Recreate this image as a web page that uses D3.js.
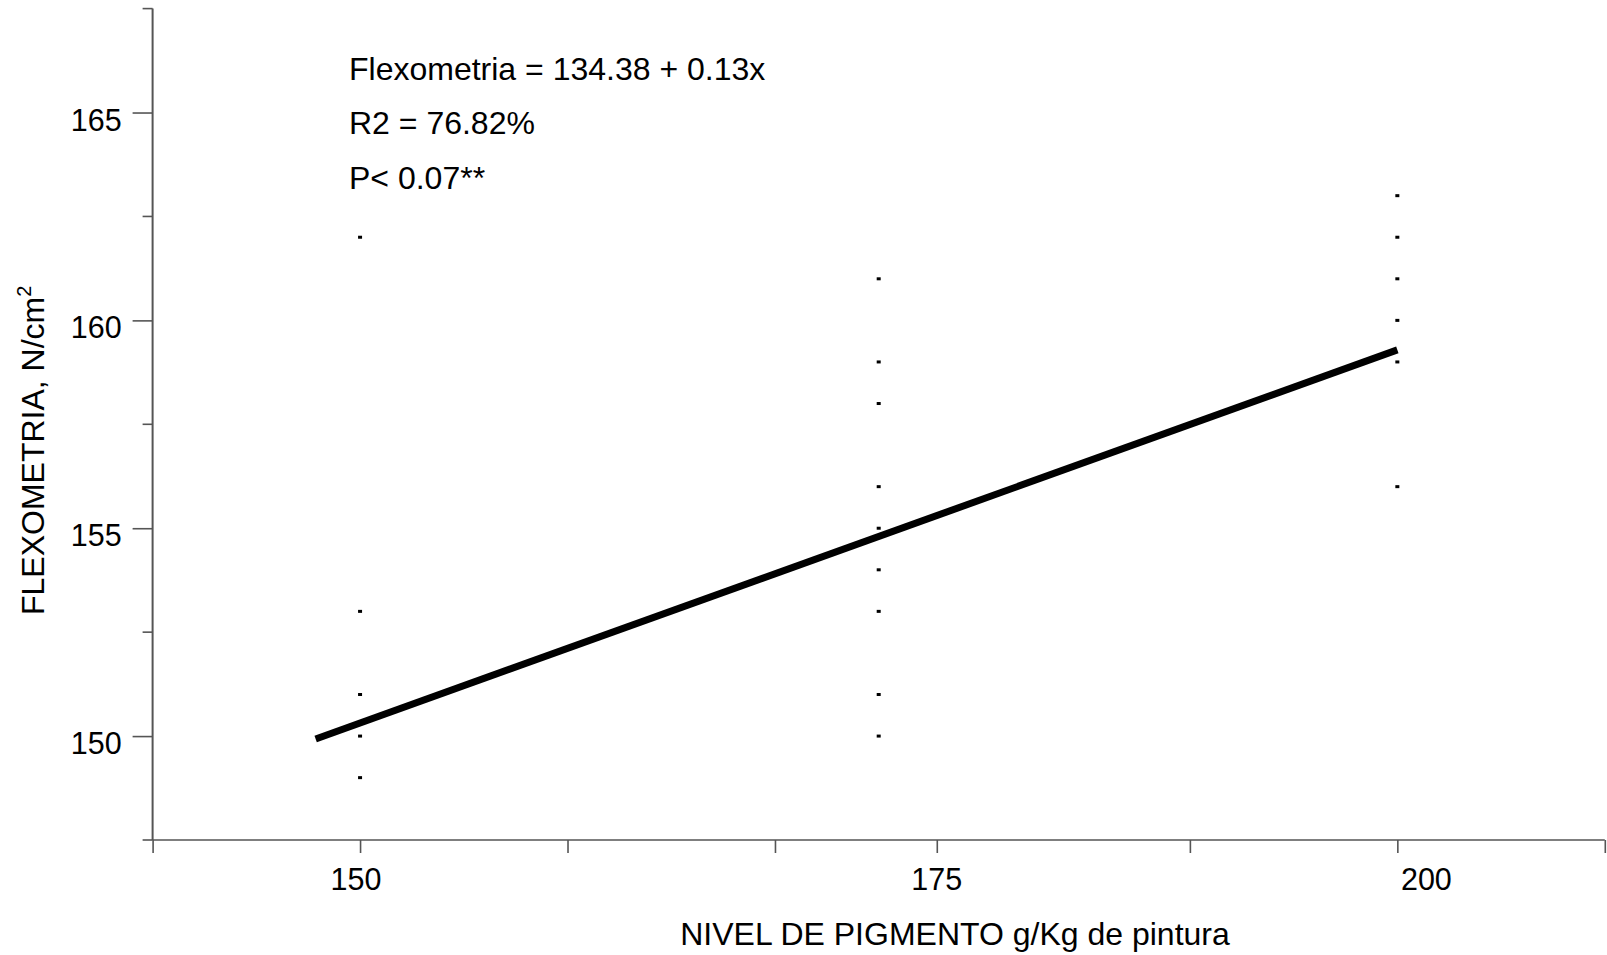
<!DOCTYPE html>
<html>
<head>
<meta charset="utf-8">
<script src="https://cdn.jsdelivr.net/npm/d3@7"></script>
<style>
  html, body { margin: 0; padding: 0; background: #fff; }
  svg { display: block; }
  text { font-family: "Liberation Sans", Arial, sans-serif; fill: #000; }
</style>
</head>
<body>
<svg id="chart" width="1607" height="955"></svg>
<script>
// Pigment level (g/Kg of paint) for each flexometry reading
const pointLevels = [150, 150, 150, 150, 150,
                     175, 175, 175, 175, 175, 175, 175, 175, 175,
                     200, 200, 200, 200, 200, 200];
// Flexometry readings, N/cm2
const pointValues = [162, 153, 151, 150, 149,
                     161, 159, 158, 156, 155, 154, 153, 151, 150,
                     163, 162, 161, 160, 159, 156];

// Fitted trend line end points (level, flexometry)
const fitLevels = [147.86, 200];
const fitValues = [149.93, 159.29];

// Axis ticks and labels
const xTickValues = [140, 150, 160, 170, 177.8, 190, 200, 210];
const xLabelPositions = [149.8, 177.8, 201.4];
const xLabelTexts = ["150", "175", "200"];
const yMajorTicks = [150, 155, 160, 165];
const yMinorTicks = [147.5, 152.5, 157.5, 162.5, 167.5];

const annotationLines = ["Flexometria = 134.38 + 0.13x", "R2 = 76.82%", "P< 0.07**"];

const svg = d3.select("#chart");

const x = d3.scaleLinear().domain([140, 210]).range([152.6, 1604.8]);
const y = d3.scaleLinear().domain([147.5, 167.5]).range([840, 8.6]);

const axisColor = "#555";

// Y axis: major ticks (labelled) and minor ticks
const yAxisG = svg.append("g").attr("transform", `translate(${x(140)},0)`);
yAxisG.call(d3.axisLeft(y).tickValues(yMajorTicks).tickSize(20).tickFormat(""));
yAxisG.call(g => g.select(".domain").remove());
yAxisG.selectAll(".tick line").attr("stroke", axisColor).attr("stroke-width", 1.6);
yAxisG.selectAll(".minor").data(yMinorTicks).enter().append("line")
  .attr("class", "minor")
  .attr("x1", -10).attr("x2", 0)
  .attr("y1", d => y(d)).attr("y2", d => y(d))
  .attr("stroke", axisColor).attr("stroke-width", 1.6);
yAxisG.append("line")
  .attr("x1", 0).attr("x2", 0)
  .attr("y1", y(167.5)).attr("y2", y(147.5))
  .attr("stroke", axisColor).attr("stroke-width", 2);
yAxisG.selectAll(".ylab").data(yMajorTicks).enter().append("text")
  .attr("class", "ylab")
  .attr("x", -31)
  .attr("y", d => y(d) + 18)
  .attr("text-anchor", "end")
  .style("font-size", "30.5px")
  .text(d => d);

// X axis
const xAxisG = svg.append("g").attr("transform", `translate(0,${y(147.5)})`);
xAxisG.call(d3.axisBottom(x).tickValues(xTickValues).tickSize(13).tickFormat(""));
xAxisG.select(".domain").attr("stroke", axisColor).attr("stroke-width", 1.6)
  .attr("d", `M${x(140)},0H${x(210)}`);
xAxisG.selectAll(".tick line").attr("stroke", axisColor).attr("stroke-width", 1.6);
xAxisG.selectAll(".xlab").data(xLabelPositions).enter().append("text")
  .attr("class", "xlab")
  .attr("x", d => x(d))
  .attr("y", 50)
  .attr("text-anchor", "middle")
  .style("font-size", "30.5px")
  .text((d, i) => xLabelTexts[i]);

// Axis titles
svg.append("text")
  .attr("x", 955).attr("y", 945)
  .attr("text-anchor", "middle")
  .style("font-size", "32px")
  .text("NIVEL DE PIGMENTO g/Kg de pintura");

const yTitle = svg.append("text")
  .attr("transform", "translate(44,615) rotate(-90)")
  .attr("text-anchor", "start")
  .style("font-size", "32px");
yTitle.append("tspan").text("FLEXOMETRIA, N/cm");
yTitle.append("tspan").attr("dy", -13).style("font-size", "20px").text("2");

// Observations
svg.append("g").selectAll("rect").data(pointLevels).enter().append("rect")
  .attr("x", (d, i) => x(d) - 2)
  .attr("y", (d, i) => y(pointValues[i]) - 1.5)
  .attr("width", 4).attr("height", 3)
  .attr("fill", "#000");

// Regression line
const fit = fitLevels.map((d, i) => [d, fitValues[i]]);
svg.append("path")
  .datum(fit)
  .attr("d", d3.line().x(d => x(d[0])).y(d => y(d[1])))
  .attr("fill", "none")
  .attr("stroke", "#000")
  .attr("stroke-width", 7);

// Equation, fit and significance
svg.append("g").selectAll("text").data(annotationLines).enter().append("text")
  .attr("x", 349)
  .attr("y", (d, i) => 79.5 + i * 54.7)
  .style("font-size", "32px")
  .text(d => d);
</script>
</body>
</html>
